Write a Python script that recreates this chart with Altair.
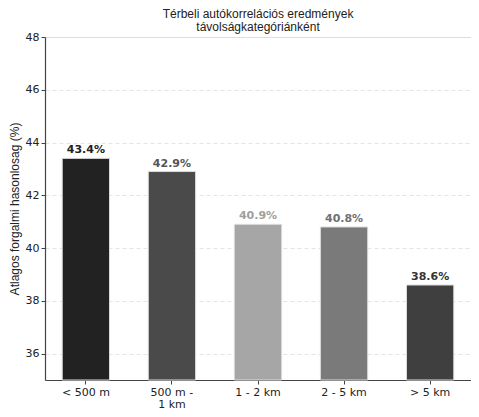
import altair as alt
import pandas as pd

categories = ["< 500 m", "500 m -|1 km", "1 - 2 km", "2 - 5 km", "> 5 km"]
values = [43.4, 42.9, 40.9, 40.8, 38.6]
bar_colors = ["#222222", "#4a4a4a", "#a6a6a6", "#7a7a7a", "#3f3f3f"]
label_colors = ["#222222", "#555555", "#a0a0a0", "#707070", "#333333"]
y_ticks = [36, 38, 40, 42, 44, 46, 48]

df = pd.DataFrame({
    "cat": categories,
    "val": values,
    "bar_color": bar_colors,
    "label_color": label_colors,
    "label": [f"{v:.1f}%" for v in values],
})

x = alt.X("cat:N", sort=categories, title=None,
          scale=alt.Scale(paddingInner=0.45, paddingOuter=0.2, align=0.5),
          axis=alt.Axis(labelAngle=0, labelExpr="split(datum.label, '|')",
                        labelFont="DejaVu Sans", labelFontSize=11, labelColor="#222222",
                        domainColor="#444444", domainWidth=1.2, tickColor="#444444",
                        tickSize=4, labelPadding=2, grid=False, labelLineHeight=12))

base = alt.Chart(df)

bars = base.mark_bar(stroke="#dddddd", strokeWidth=1).encode(
    x=x,
    y=alt.Y("val:Q", title="Atlagos forgalmi hasonlosag (%)",
            scale=alt.Scale(domain=[35, 48], zero=False, nice=False),
            axis=alt.Axis(values=y_ticks, format="d", labelFont="DejaVu Sans",
                          labelFontSize=11, labelColor="#222222",
                          titleFont="Liberation Sans", titleFontSize=12,
                          titleFontWeight="normal", titleColor="#222222",
                          domainColor="#444444", domainWidth=1.2, tickColor="#444444",
                          tickSize=4, labelPadding=2, titlePadding=4,
                          grid=True, gridDash=[4, 3], gridColor="#dddddd",
                          gridWidth=0.8)),
    y2=alt.datum(35),
    color=alt.Color("bar_color:N", scale=None),
)

texts = base.mark_text(dy=-8, fontWeight="bold", font="DejaVu Sans", fontSize=11).encode(
    x=alt.X("cat:N", sort=categories),
    y="val:Q",
    text="label:N",
    color=alt.Color("label_color:N", scale=None),
)

chart = (bars + texts).properties(
    width=463, height=401,
    autosize=alt.AutoSizeParams(type="fit", contains="padding"),
    title=alt.TitleParams(["Térbeli autókorrelációs eredmények", "távolságkategóriánként"],
                          font="Liberation Sans", fontSize=12, fontWeight="normal",
                          color="#222222", anchor="middle", offset=-3, lineHeight=13,
                          frame="group"),
    padding={"left": 0, "top": 0, "right": 0, "bottom": 0},
).configure_view(stroke=None).configure(background="white")

chart.save("out.html", embed_options={"renderer": "svg", "actions": False})
